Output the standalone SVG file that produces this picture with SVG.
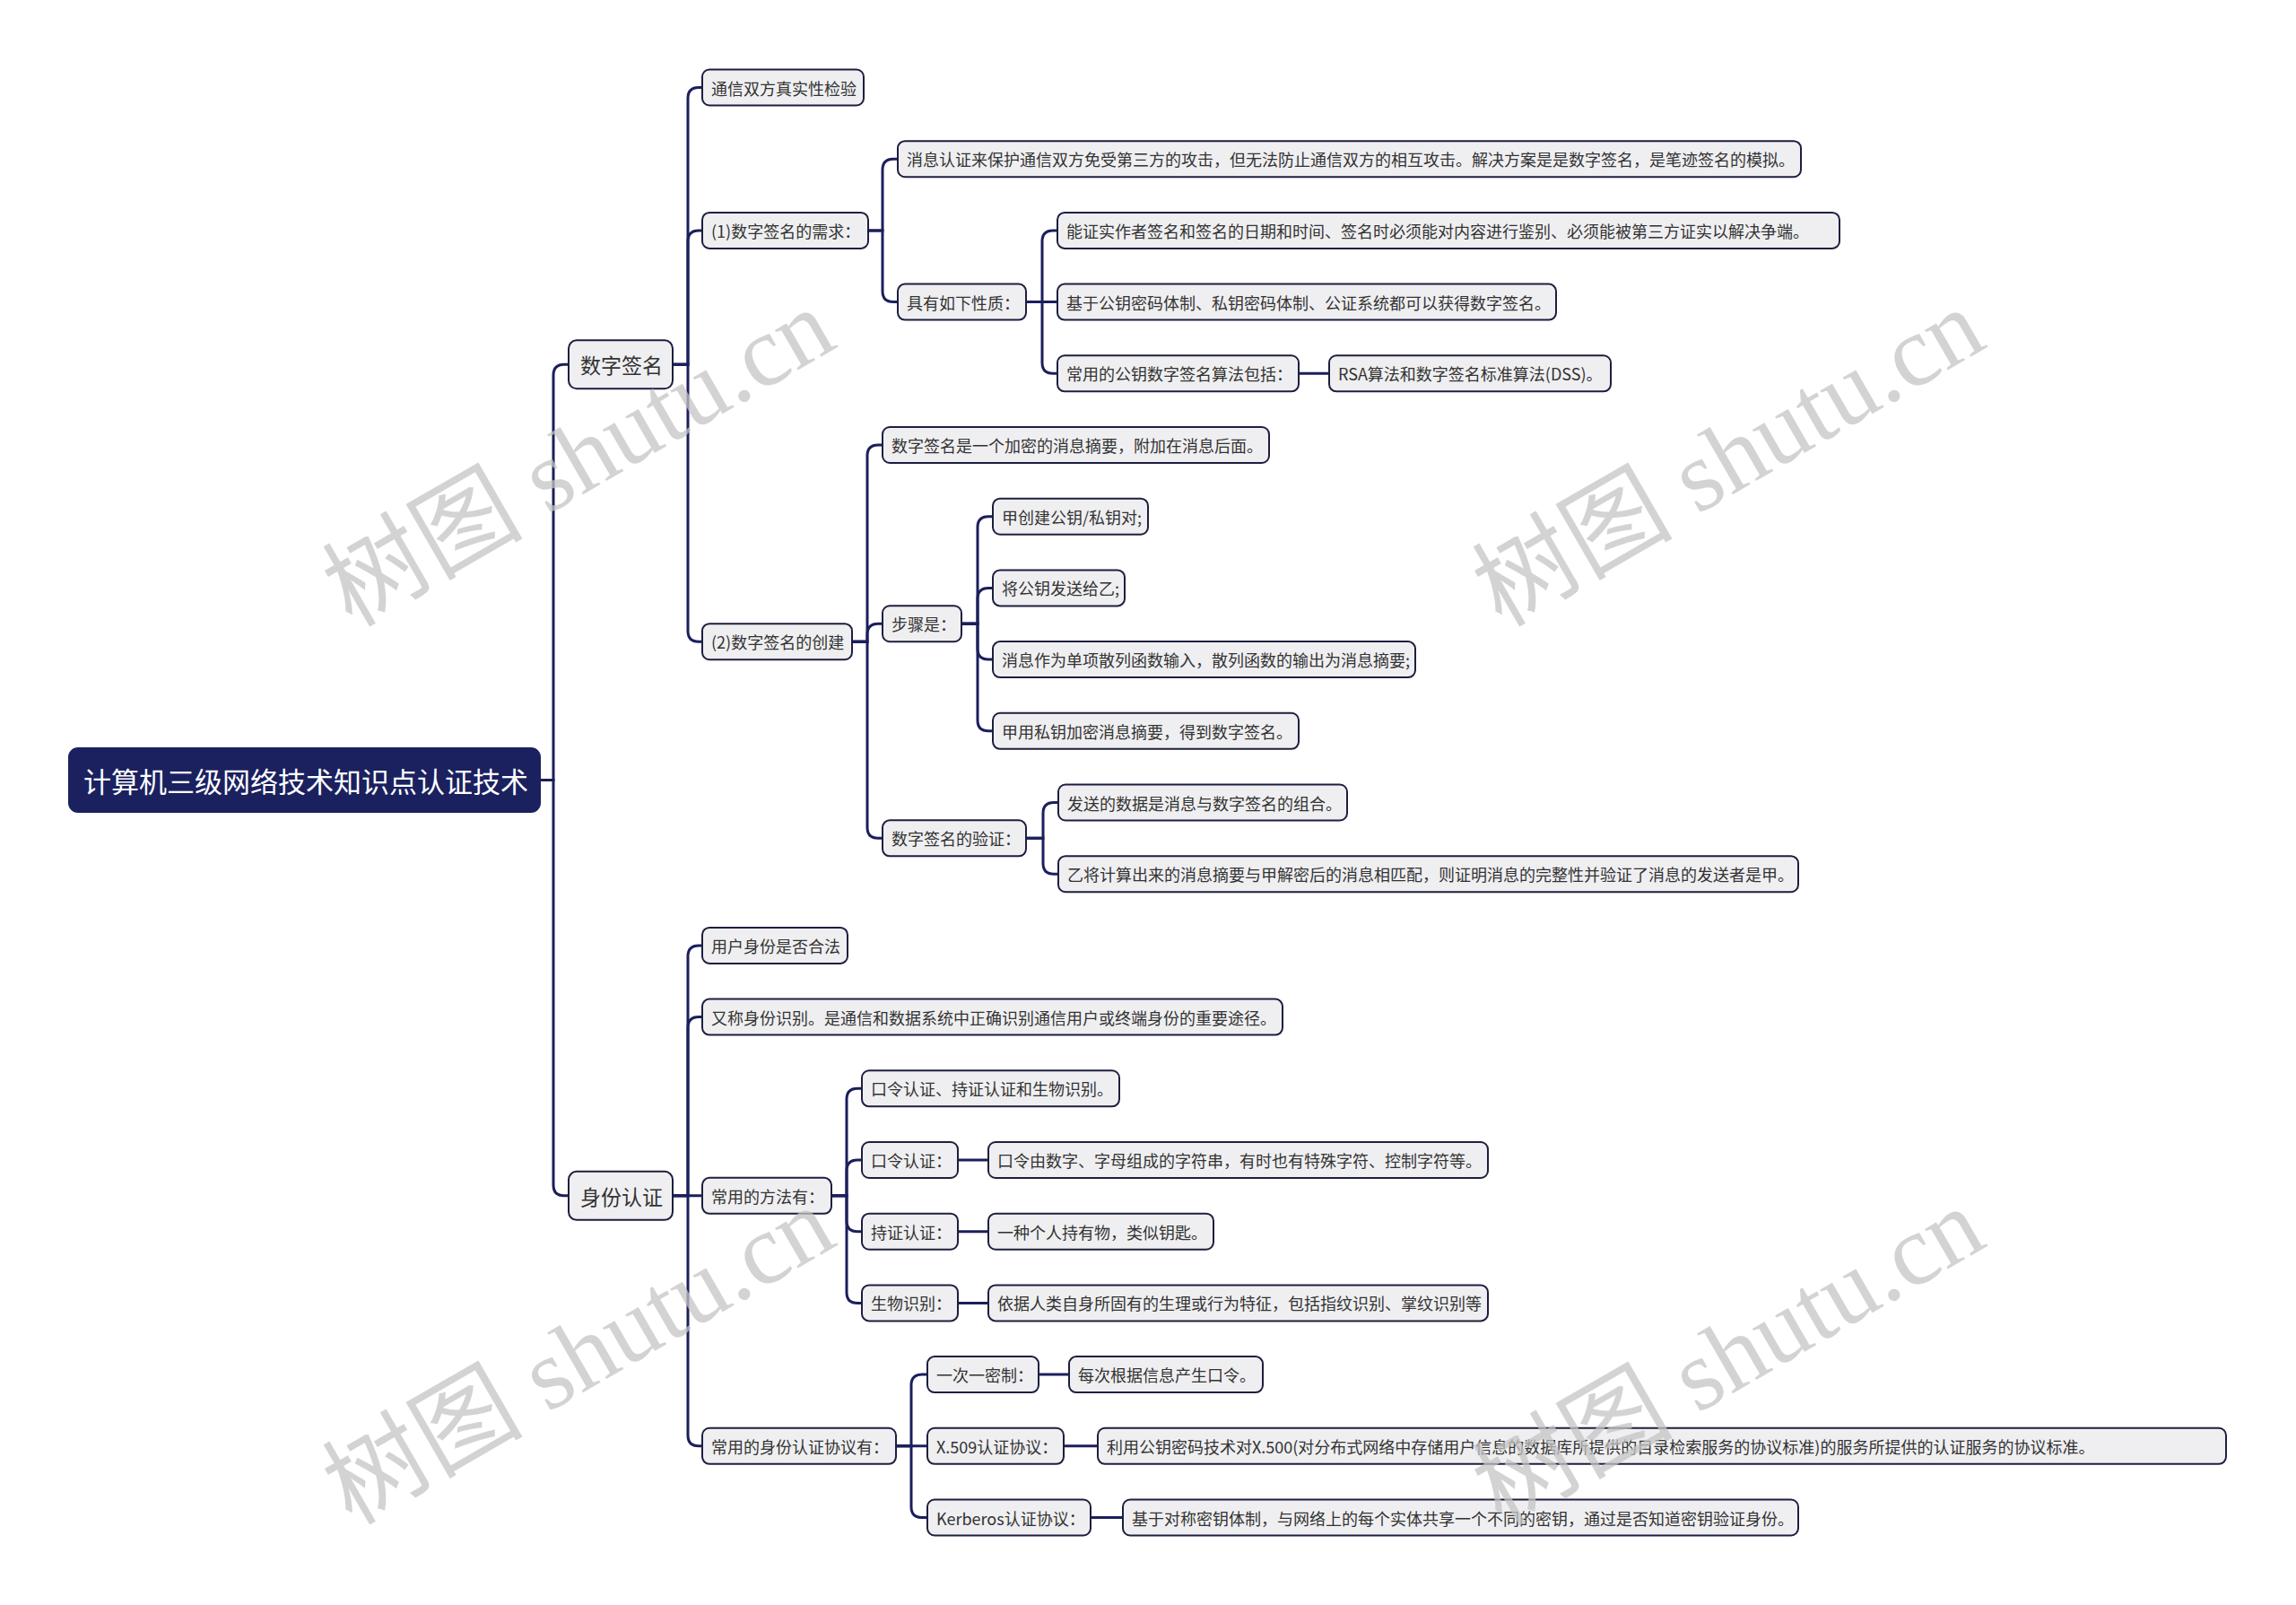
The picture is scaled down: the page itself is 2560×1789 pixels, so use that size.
<svg xmlns="http://www.w3.org/2000/svg" width="2560" height="1789" viewBox="0 0 2560 1789">
<style>
.n rect{fill:#efeff1;stroke:#1d1f3f;stroke-width:2}
.n text{font-family:"Noto Sans CJK SC","Noto Sans",sans-serif;font-size:18px;fill:#333;dominant-baseline:central}
.l1 text{font-size:23px}
.root rect{fill:#1b215f;stroke:#1b215f}
.root text{fill:#fff;font-size:31px}
.c path{fill:none;stroke:#1b1f5c;stroke-width:3}
.wm{font-family:"Liberation Serif","Noto Sans CJK SC",serif;font-size:112px;fill:#c4c4c4;fill-opacity:0.75;text-anchor:middle;dominant-baseline:central}
</style>
<rect width="2560" height="1789" fill="#fff"/>
<g class="c" id="connectors">
<path d="M602,869.6H617V418.3Q617,406.3 629,406.3H634"/>
<path d="M602,869.6H617V1320.85Q617,1332.85 629,1332.85H634"/>
<path d="M750,406.3H767V109.5Q767,97.5 779,97.5H783"/>
<path d="M750,406.3H767V268.9Q767,256.9 779,256.9H783"/>
<path d="M750,406.3H767V703.2Q767,715.2 779,715.2H783"/>
<path d="M968,256.9H984V189.2Q984,177.2 996,177.2H1001"/>
<path d="M968,256.9H984V324.6Q984,336.6 996,336.6H1001"/>
<path d="M1144,336.6H1162V268.9Q1162,256.9 1174,256.9H1179"/>
<path d="M1144,336.6H1179"/>
<path d="M1144,336.6H1162V404.3Q1162,416.3 1174,416.3H1179"/>
<path d="M1448,416.3H1482"/>
<path d="M950,715.2H967V508Q967,496 979,496H984"/>
<path d="M950,715.2H967V707.25Q967,695.25 979,695.25H984"/>
<path d="M950,715.2H967V922.35Q967,934.35 979,934.35H984"/>
<path d="M1072,695.25H1090V587.7Q1090,575.7 1102,575.7H1107"/>
<path d="M1072,695.25H1090V667.4Q1090,655.4 1102,655.4H1107"/>
<path d="M1072,695.25H1090V723.1Q1090,735.1 1102,735.1H1107"/>
<path d="M1072,695.25H1090V802.8Q1090,814.8 1102,814.8H1107"/>
<path d="M1144,934.35H1163V906.5Q1163,894.5 1175,894.5H1180"/>
<path d="M1144,934.35H1163V962.2Q1163,974.2 1175,974.2H1180"/>
<path d="M750,1332.85H767V1065.9Q767,1053.9 779,1053.9H783"/>
<path d="M750,1332.85H767V1145.6Q767,1133.6 779,1133.6H783"/>
<path d="M750,1332.85H783"/>
<path d="M750,1332.85H767V1599.8Q767,1611.8 779,1611.8H783"/>
<path d="M927,1332.85H944V1225.3Q944,1213.3 956,1213.3H961"/>
<path d="M927,1332.85H944V1305Q944,1293 956,1293H961"/>
<path d="M927,1332.85H944V1360.7Q944,1372.7 956,1372.7H961"/>
<path d="M927,1332.85H944V1440.4Q944,1452.4 956,1452.4H961"/>
<path d="M1068,1293H1102"/>
<path d="M1068,1372.7H1102"/>
<path d="M1068,1452.4H1102"/>
<path d="M999,1611.8H1016V1544.1Q1016,1532.1 1028,1532.1H1034"/>
<path d="M999,1611.8H1034"/>
<path d="M999,1611.8H1016V1679.5Q1016,1691.5 1028,1691.5H1034"/>
<path d="M1158,1532.1H1192"/>
<path d="M1186,1611.8H1224"/>
<path d="M1216,1691.5H1252"/>
</g>
<g id="root" class="n root"><rect x="77" y="834" width="525" height="71" rx="10"/><text x="93" y="869.6">计算机三级网络技术知识点认证技术</text></g>
<g id="n-sig" class="n l1"><rect x="634" y="379.3" width="116" height="54" rx="9"/><text x="647" y="406.3">数字签名</text></g>
<g id="n-id" class="n l1"><rect x="634" y="1305.85" width="116" height="54" rx="9"/><text x="647" y="1332.85">身份认证</text></g>
<g id="a1" class="n"><rect x="783" y="77.5" width="180" height="40" rx="8"/><text x="793" y="97.5">通信双方真实性检验</text></g>
<g id="a2" class="n"><rect x="783" y="236.9" width="185" height="40" rx="8"/><text x="793" y="256.9">(1)数字签名的需求：</text></g>
<g id="a3" class="n"><rect x="783" y="695.2" width="167" height="40" rx="8"/><text x="793" y="715.2">(2)数字签名的创建</text></g>
<g id="b1" class="n"><rect x="1001" y="157.2" width="1007" height="40" rx="8"/><text x="1011" y="177.2">消息认证来保护通信双方免受第三方的攻击，但无法防止通信双方的相互攻击。解决方案是是数字签名，是笔迹签名的模拟。</text></g>
<g id="b2" class="n"><rect x="1001" y="316.6" width="143" height="40" rx="8"/><text x="1011" y="336.6">具有如下性质：</text></g>
<g id="c1" class="n"><rect x="1179" y="236.9" width="872" height="40" rx="8"/><text x="1189" y="256.9">能证实作者签名和签名的日期和时间、签名时必须能对内容进行鉴别、必须能被第三方证实以解决争端。</text></g>
<g id="c2" class="n"><rect x="1179" y="316.6" width="556" height="40" rx="8"/><text x="1189" y="336.6">基于公钥密码体制、私钥密码体制、公证系统都可以获得数字签名。</text></g>
<g id="c3" class="n"><rect x="1179" y="396.3" width="269" height="40" rx="8"/><text x="1189" y="416.3">常用的公钥数字签名算法包括：</text></g>
<g id="c3a" class="n"><rect x="1482" y="396.3" width="314" height="40" rx="8"/><text x="1492" y="416.3">RSA算法和数字签名标准算法(DSS)。</text></g>
<g id="d1" class="n"><rect x="984" y="476" width="431" height="40" rx="8"/><text x="994" y="496">数字签名是一个加密的消息摘要，附加在消息后面。</text></g>
<g id="d2" class="n"><rect x="984" y="675.25" width="88" height="40" rx="8"/><text x="994" y="695.25">步骤是：</text></g>
<g id="d3" class="n"><rect x="984" y="914.35" width="160" height="40" rx="8"/><text x="994" y="934.35">数字签名的验证：</text></g>
<g id="e1" class="n"><rect x="1107" y="555.7" width="173" height="40" rx="8"/><text x="1117" y="575.7">甲创建公钥/私钥对;</text></g>
<g id="e2" class="n"><rect x="1107" y="635.4" width="147" height="40" rx="8"/><text x="1117" y="655.4">将公钥发送给乙;</text></g>
<g id="e3" class="n"><rect x="1107" y="715.1" width="471" height="40" rx="8"/><text x="1117" y="735.1">消息作为单项散列函数输入，散列函数的输出为消息摘要;</text></g>
<g id="e4" class="n"><rect x="1107" y="794.8" width="341" height="40" rx="8"/><text x="1117" y="814.8">甲用私钥加密消息摘要，得到数字签名。</text></g>
<g id="f1" class="n"><rect x="1180" y="874.5" width="322" height="40" rx="8"/><text x="1190" y="894.5">发送的数据是消息与数字签名的组合。</text></g>
<g id="f2" class="n"><rect x="1180" y="954.2" width="825" height="40" rx="8"/><text x="1190" y="974.2">乙将计算出来的消息摘要与甲解密后的消息相匹配，则证明消息的完整性并验证了消息的发送者是甲。</text></g>
<g id="g1" class="n"><rect x="783" y="1033.9" width="162" height="40" rx="8"/><text x="793" y="1053.9">用户身份是否合法</text></g>
<g id="g2" class="n"><rect x="783" y="1113.6" width="647" height="40" rx="8"/><text x="793" y="1133.6">又称身份识别。是通信和数据系统中正确识别通信用户或终端身份的重要途径。</text></g>
<g id="h0" class="n"><rect x="783" y="1312.85" width="144" height="40" rx="8"/><text x="793" y="1332.85">常用的方法有：</text></g>
<g id="h1" class="n"><rect x="961" y="1193.3" width="287" height="40" rx="8"/><text x="971" y="1213.3">口令认证、持证认证和生物识别。</text></g>
<g id="h2" class="n"><rect x="961" y="1273" width="107" height="40" rx="8"/><text x="971" y="1293">口令认证：</text></g>
<g id="h2a" class="n"><rect x="1102" y="1273" width="557" height="40" rx="8"/><text x="1112" y="1293">口令由数字、字母组成的字符串，有时也有特殊字符、控制字符等。</text></g>
<g id="h3" class="n"><rect x="961" y="1352.7" width="107" height="40" rx="8"/><text x="971" y="1372.7">持证认证：</text></g>
<g id="h3a" class="n"><rect x="1102" y="1352.7" width="251" height="40" rx="8"/><text x="1112" y="1372.7">一种个人持有物，类似钥匙。</text></g>
<g id="h4" class="n"><rect x="961" y="1432.4" width="107" height="40" rx="8"/><text x="971" y="1452.4">生物识别：</text></g>
<g id="h4a" class="n"><rect x="1102" y="1432.4" width="557" height="40" rx="8"/><text x="1112" y="1452.4">依据人类自身所固有的生理或行为特征，包括指纹识别、掌纹识别等</text></g>
<g id="i0" class="n"><rect x="783" y="1591.8" width="216" height="40" rx="8"/><text x="793" y="1611.8">常用的身份认证协议有：</text></g>
<g id="i1" class="n"><rect x="1034" y="1512.1" width="124" height="40" rx="8"/><text x="1044" y="1532.1">一次一密制：</text></g>
<g id="i1a" class="n"><rect x="1192" y="1512.1" width="216" height="40" rx="8"/><text x="1202" y="1532.1">每次根据信息产生口令。</text></g>
<g id="i2" class="n"><rect x="1034" y="1591.8" width="152" height="40" rx="8"/><text x="1044" y="1611.8">X.509认证协议：</text></g>
<g id="i2a" class="n"><rect x="1224" y="1591.8" width="1258" height="40" rx="8"/><text x="1234" y="1611.8">利用公钥密码技术对X.500(对分布式网络中存储用户信息的数据库所提供的目录检索服务的协议标准)的服务所提供的认证服务的协议标准。</text></g>
<g id="i3" class="n"><rect x="1034" y="1671.5" width="182" height="40" rx="8"/><text x="1044" y="1691.5">Kerberos认证协议：</text></g>
<g id="i3a" class="n"><rect x="1252" y="1671.5" width="753" height="40" rx="8"/><text x="1262" y="1691.5">基于对称密钥体制，与网络上的每个实体共享一个不同的密钥，通过是否知道密钥验证身份。</text></g>
<g id="watermarks">
<text class="wm" transform="translate(645,510) rotate(-30)">树图 shutu.cn</text>
<text class="wm" transform="translate(1927,510) rotate(-30)">树图 shutu.cn</text>
<text class="wm" transform="translate(645,1511) rotate(-30)">树图 shutu.cn</text>
<text class="wm" transform="translate(1927,1512) rotate(-30)">树图 shutu.cn</text>
</g>
</svg>
